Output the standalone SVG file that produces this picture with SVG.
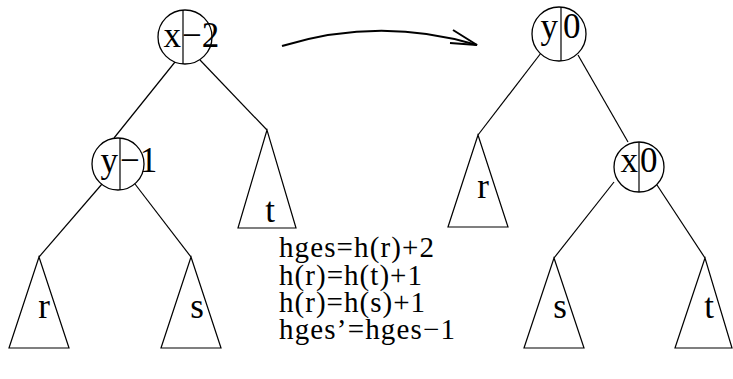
<svg xmlns="http://www.w3.org/2000/svg" width="733" height="379" viewBox="0 0 733 379">
<style>
.ln{stroke:#000;stroke-width:1.2;fill:none}
.nd{stroke:#000;stroke-width:1.3;fill:#fff}
.tri{stroke:#000;stroke-width:1.2;fill:#fff}
.lb{font-family:"Liberation Serif","Times New Roman",serif;font-size:35px;fill:#000}
.tl{font-family:"Liberation Serif","Times New Roman",serif;font-size:35px;fill:#000;text-anchor:middle}
.eq{font-family:"Liberation Serif","Times New Roman",serif;font-size:29px;fill:#000}
</style>
<rect width="733" height="379" fill="#fff"/>
<g id="connectors">
<line class="ln" x1="175" y1="62" x2="114" y2="138"/>
<line class="ln" x1="200" y1="60" x2="267" y2="130"/>
<line class="ln" x1="102" y1="184" x2="39" y2="257"/>
<line class="ln" x1="135" y1="184" x2="191" y2="257"/>
<line class="ln" x1="541" y1="53" x2="478" y2="135"/>
<line class="ln" x1="578" y1="55" x2="628" y2="142"/>
<line class="ln" x1="614" y1="182" x2="554" y2="258"/>
<line class="ln" x1="657" y1="185" x2="705" y2="258"/>
<g id="arrow">
<path d="M282,46 Q380,16 477,45" stroke="#000" stroke-width="2" fill="none"/>
<path d="M453,30 L477,45 L450,43" stroke="#000" stroke-width="2" fill="none"/>
</g>
</g>
<g id="node-x-left">
<circle class="nd" cx="185" cy="37" r="27"/>
<line class="ln" x1="183" y1="10" x2="183" y2="64"/>
<text class="lb" x="181" y="47" text-anchor="end">x</text>
<text class="lb" x="182" y="47">−2</text>
</g>
<g id="node-y-left">
<circle class="nd" cx="118" cy="164" r="26"/>
<line class="ln" x1="120" y1="138" x2="120" y2="190"/>
<text class="lb" x="118" y="172" text-anchor="end">y</text>
<text class="lb" x="120" y="172">−1</text>
</g>
<g id="tree-t-left">
<polygon class="tri" points="267,130 238,228 296,228"/>
<text class="tl" x="270" y="222">t</text>
</g>
<g id="tree-r-left">
<polygon class="tri" points="39,257 9,348 69,348"/>
<text class="tl" x="44" y="318">r</text>
</g>
<g id="tree-s-left">
<polygon class="tri" points="191,257 161,348 221,348"/>
<text class="tl" x="197" y="318">s</text>
</g>
<g id="node-y-right">
<circle class="nd" cx="559" cy="34" r="27"/>
<line class="ln" x1="561" y1="7" x2="561" y2="61"/>
<text class="lb" x="558" y="38" text-anchor="end">y</text>
<text class="lb" x="563" y="38">0</text>
</g>
<g id="node-x-right">
<circle class="nd" cx="639" cy="167" r="25"/>
<line class="ln" x1="639" y1="142" x2="639" y2="192"/>
<text class="lb" x="638" y="172" text-anchor="end">x</text>
<text class="lb" x="640" y="172">0</text>
</g>
<g id="tree-r-right">
<polygon class="tri" points="478,135 448,227 508,227"/>
<text class="tl" x="483" y="198">r</text>
</g>
<g id="tree-s-right">
<polygon class="tri" points="554,258 524,348 584,348"/>
<text class="tl" x="560" y="318">s</text>
</g>
<g id="tree-t-right">
<polygon class="tri" points="705,258 675,348 732,348"/>
<text class="tl" x="709" y="318">t</text>
</g>
<g id="equations">
<text class="eq" x="279" y="257" textLength="155" lengthAdjust="spacing">hges=h(r)+2</text>
<text class="eq" x="279" y="285" textLength="143" lengthAdjust="spacing">h(r)=h(t)+1</text>
<text class="eq" x="279" y="312" textLength="146" lengthAdjust="spacing">h(r)=h(s)+1</text>
<text class="eq" x="279" y="339" textLength="176" lengthAdjust="spacing">hges’=hges−1</text>
</g>
</svg>
